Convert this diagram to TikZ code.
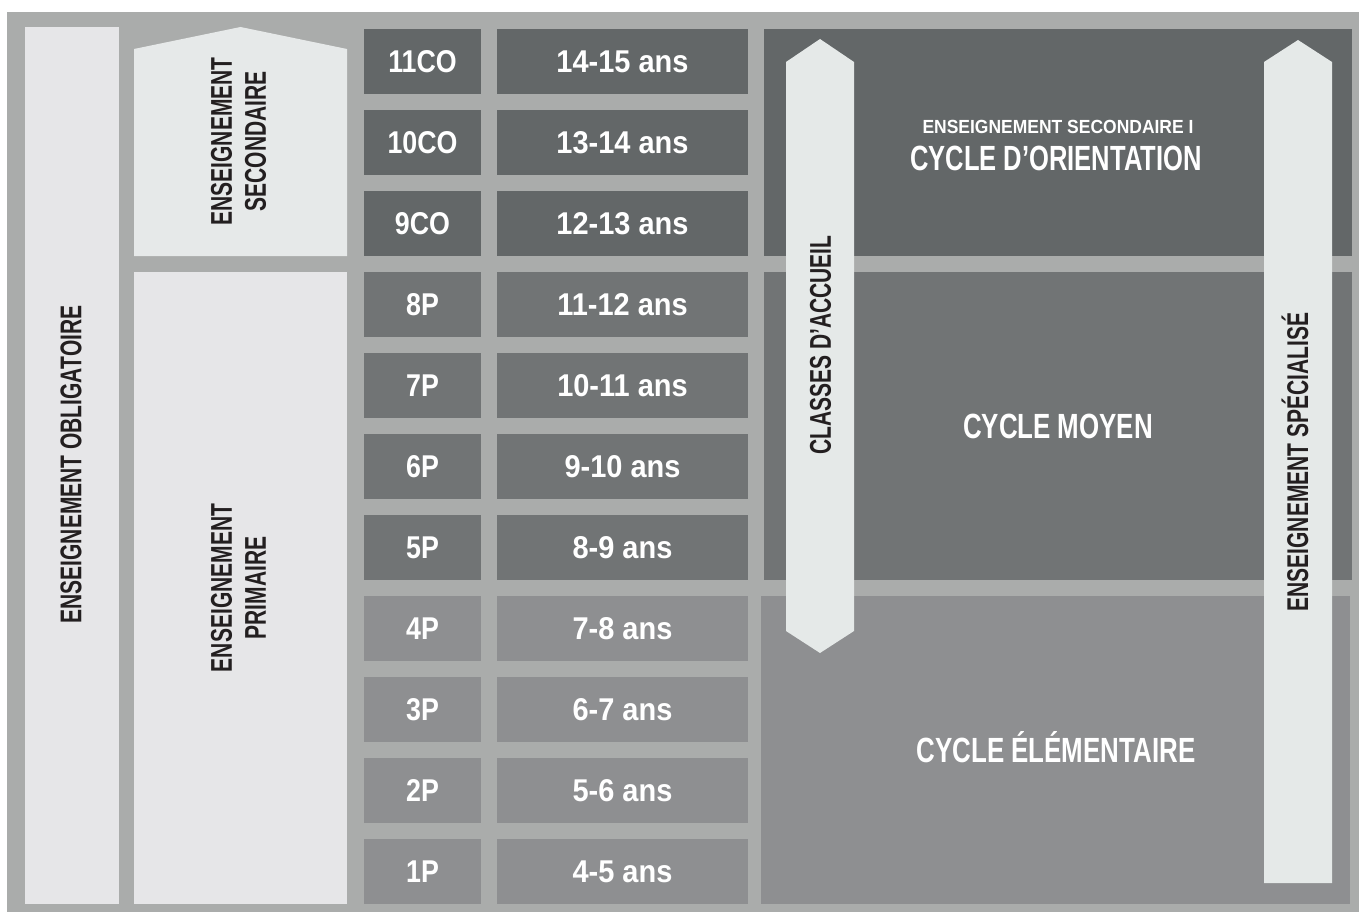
\documentclass[tikz,border=0pt]{standalone}
\usepackage{fontspec}
\setmainfont{Liberation Sans}
\definecolor{frameg}{HTML}{AAACAB}
\definecolor{darkg}{HTML}{636768}
\definecolor{midg}{HTML}{717475}
\definecolor{lowg}{HTML}{8E8F91}
\definecolor{arrowl}{HTML}{E5E9E8}
\definecolor{leftl}{HTML}{E6E6E8}
\definecolor{pentl}{HTML}{E6E9E9}
\definecolor{txtd}{HTML}{231F20}
\newcommand{\sx}[2]{\scalebox{#1}[1]{#2}}
\tikzset{
  cell/.style={inner sep=0pt, outer sep=0pt, minimum height=65pt},
  lbl/.style={inner sep=0pt, text=white, font=\fontsize{31.5}{36}\selectfont\bfseries},
  vlbl/.style={inner sep=0pt, rotate=90, text=txtd, font=\fontsize{30}{34}\selectfont\bfseries},
  big/.style={inner sep=0pt, text=white, anchor=base, font=\fontsize{35}{40}\selectfont\bfseries},
}
\begin{document}
\begin{tikzpicture}[x=1pt,y=-1pt]
\useasboundingbox (0,0) rectangle (1359,912);
\fill[frameg] (7,12) rectangle (1359,912);
% left column
\node[cell, fill=leftl, minimum width=94pt, minimum height=877pt] (oblig) at (72,465.5) {};
\fill[pentl] (134,49) -- (240.5,27) -- (347,49) -- (347,256) -- (134,256) -- cycle;
\node[cell, fill=leftl, minimum width=213pt, minimum height=632pt] (prim) at (240.5,588) {};
% rows
\foreach \k/\g/\a/\c in {0/11CO/14-15 ans/darkg, 1/10CO/13-14 ans/darkg, 2/9CO/12-13 ans/darkg, 3/8P/11-12 ans/midg, 4/7P/10-11 ans/midg, 5/6P/9-10 ans/midg, 6/5P/8-9 ans/midg, 7/4P/7-8 ans/lowg, 8/3P/6-7 ans/lowg, 9/2P/5-6 ans/lowg, 10/1P/4-5 ans/lowg}{
  \node[cell, fill=\c, minimum width=117pt] (g\k) at (422.5,61.5+81*\k) {};
  \node[cell, fill=\c, minimum width=251pt] (a\k) at (622.5,61.5+81*\k) {};
  \node[lbl, anchor=base] (gt\k) at (422.5,72.8+81*\k) {\sx{0.85}{\g}};
  \node[lbl, anchor=base] (at\k) at (622.5,72.8+81*\k) {\sx{0.92}{\a}};
}
% right regions
\node[cell, fill=darkg, minimum width=588pt, minimum height=227pt] (co) at (1058,142.5) {};
\node[cell, fill=midg, minimum width=588pt, minimum height=308pt] (cm) at (1058,426) {};
\node[cell, fill=lowg, minimum width=589pt, minimum height=308pt] (ce) at (1055.5,750) {};
% arrows
\fill[arrowl] (786,62) -- (820,39) -- (854,62) -- (854,631) -- (820,653) -- (786,631) -- cycle;
\fill[arrowl] (1264,62) -- (1298,40) -- (1332,62) -- (1332,883) -- (1264,883) -- cycle;
% vertical labels
\node[vlbl] (toblig) at (71,464.5) {\sx{0.70}{ENSEIGNEMENT OBLIGATOIRE}};
\node[vlbl, align=center] (tsec) at (238.5,141.5) {\sx{0.70}{ENSEIGNEMENT}\\\sx{0.70}{SECONDAIRE}};
\node[vlbl, align=center] (tprim) at (238.5,588) {\sx{0.70}{ENSEIGNEMENT}\\\sx{0.70}{PRIMAIRE}};
\node[vlbl] (tacc) at (820.5,345) {\sx{0.70}{CLASSES D’ACCUEIL}};
\node[vlbl, anchor=base] (tspe) at (1308.2,462) {\sx{0.70}{ENSEIGNEMENT SPÉCIALISÉ}};
% right texts
\node[big, font=\fontsize{19}{22}\selectfont\bfseries] (tes) at (1058,134) {\sx{0.92}{ENSEIGNEMENT SECONDAIRE I}};
\node[big] (tco) at (1056,171) {\sx{0.73}{CYCLE D’ORIENTATION}};
\node[big] (tcm) at (1058,438.5) {\sx{0.74}{CYCLE MOYEN}};
\node[big] (tce) at (1056,762.5) {\sx{0.74}{CYCLE ÉLÉMENTAIRE}};
\end{tikzpicture}
\end{document}
